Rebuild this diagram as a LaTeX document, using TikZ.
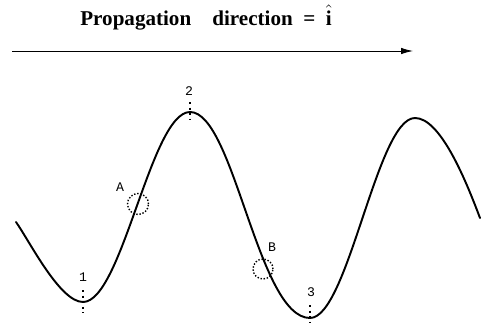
\documentclass[tikz,border=0pt]{standalone}
\usepackage{amsmath}
\usepackage{fontspec}
\setmainfont{Liberation Serif}
\setmonofont{Liberation Mono}
\usetikzlibrary{arrows.meta}

\begin{document}
\begin{tikzpicture}[x=0.02cm,y=-0.02cm,
  wave/.style={line width=1.1pt,line join=round,line cap=round},
  tick/.style={dotted,line width=1.2pt},
  ring/.style={densely dotted,line width=0.8pt},
  ptl/.style={font=\ttfamily\fontsize{7.5}{8}\selectfont,inner sep=1pt}]
\useasboundingbox (0,0) rectangle (481,325);
% Title and direction of propagation
\node[font=\bfseries\fontsize{12}{14}\selectfont,anchor=base west,inner sep=0pt] (title) at (80,25)
  {Propagation\quad direction \ = \ $\hat{\textbf{i}}$};
\coordinate (tail) at (12,51);
\coordinate (head) at (413,51);
\draw[-{Latex[length=2.4mm,width=1.3mm]},line width=0.5pt] (tail) -- (head);
% The wave (crests and troughs joined by half waves)
\draw[wave] (16,222) .. controls (30,242) and (60,302) .. (83,302)
  .. controls (122,302) and (151,112) .. (190,112)
  .. controls (234,112) and (258,318) .. (310,318)
  .. controls (348,318) and (377,118) .. (415,118)
  .. controls (440,118) and (465,178) .. (480,218);
% Crest / trough markers
\node[ptl] (n1) at (83,277) {1};
\node[ptl] (n2) at (189,91) {2};
\node[ptl] (n3) at (311,292) {3};
\draw[tick] (83,290) -- (83,313);
\draw[tick] (190,102) -- (190,120);
\draw[tick] (310,305) -- (310,323);
% Sample points on the slopes
\node[ring,draw,circle,minimum size=0.42cm,inner sep=0pt] (pa) at (138,204) {};
\node[ring,draw,circle,minimum size=0.4cm,inner sep=0pt] (pb) at (263,269) {};
\node[ptl] (la) at (120,187) {A};
\node[ptl] (lb) at (272,247) {B};
\end{tikzpicture}
\end{document}
